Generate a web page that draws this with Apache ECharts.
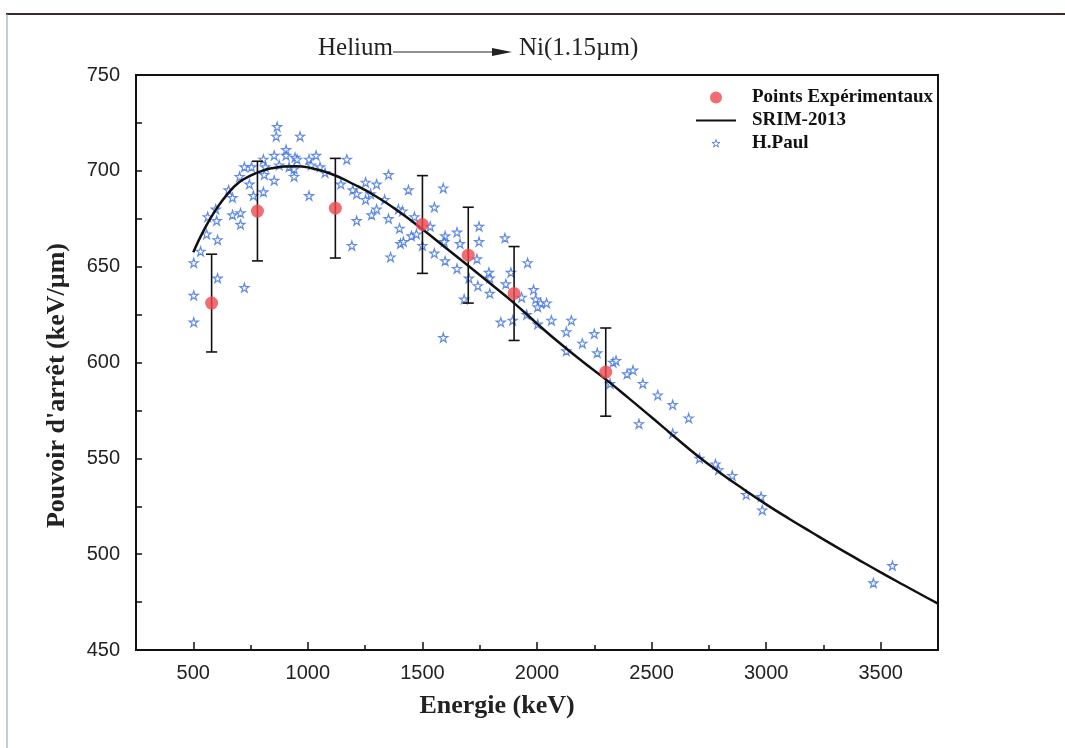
<!DOCTYPE html>
<html>
<head>
<meta charset="utf-8">
<script src="https://cdn.jsdelivr.net/npm/echarts/dist/echarts.min.js"></script>
<style>
html,body{margin:0;padding:0;background:#fff;}
#chart{width:1065px;height:748px;}
</style>
</head>
<body>
<div id="chart"></div>
<script>
// ---- data ----
const xMajorTicks = [500, 1000, 1500, 2000, 2500, 3000, 3500];
const xMinorTicks = [750, 1250, 1750, 2250, 2750, 3250];

const srimE = [500, 550, 600, 650, 700, 750, 800, 850, 900, 950, 1000, 1100, 1200, 1300, 1400, 1500, 1600, 1700, 1800, 1900, 2000, 2100, 2200, 2300, 2400, 2500, 2600, 2700, 2800, 2900, 3000, 3100, 3200, 3300, 3400, 3500, 3600, 3700, 3750];
const srimS = [657.5, 670, 680, 688, 694, 697.5, 700, 701.5, 702.3, 702.4, 701.8, 698.5, 693, 686.5, 678.5, 669.5, 660, 650.5, 640.8, 631, 620.3, 610, 600.4, 591.2, 581.4, 571.4, 561.3, 551.4, 542.4, 534, 526, 518.5, 511.3, 504.2, 497.3, 490.5, 483.9, 477.4, 474.2];

const expE = [580, 780, 1120, 1500, 1700, 1900, 2300];
const expS = [631, 679, 680.5, 672, 656, 636, 595];
const expErr = [25.5, 26, 26, 25.5, 25, 24.5, 23];

const paulE = [502, 502, 502, 532, 558, 563, 598, 602, 606, 606, 654, 671, 671, 706, 706, 702, 723, 723, 754, 745, 762, 806, 806, 814, 810, 853, 853, 862, 866, 875, 905, 905, 918, 944, 953, 940, 966, 940, 1005, 1005, 1036, 1014, 1053, 1075, 1144, 1170, 1196, 1213, 1192, 1213, 1252, 1274, 1252, 1300, 1335, 1300, 1278, 1352, 1352, 1395, 1400, 1404, 1361, 1439, 1413, 1465, 1452, 1474, 1417, 1500, 1534, 1552, 1591, 1552, 1599, 1595, 1599, 1591, 1651, 1664, 1651, 1703, 1682, 1747, 1747, 1738, 1742, 1790, 1794, 1794, 1860, 1886, 1864, 1842, 1894, 1959, 1933, 1985, 1994, 2016, 2042, 2003, 1955, 2003, 2063, 2150, 2128, 2128, 2198, 2250, 2263, 2332, 2345, 2319, 2393, 2419, 2462, 2445, 2527, 2592, 2592, 2662, 2709, 2779, 2792, 2852, 2913, 2978, 2983, 3468, 3551];
const paulS = [652, 635, 621, 658, 667, 676, 680, 674, 664, 644, 690, 686, 677, 678, 672, 697, 639, 702, 702, 693, 687, 689, 706, 702, 698, 695, 708, 718, 723, 703, 711, 708, 702, 707, 706, 697, 718, 701, 687, 706, 708, 703, 702, 699, 693, 706, 690, 688, 661, 674, 694, 688, 685, 693, 685, 680, 677, 698, 675, 680, 670, 662, 655, 690, 679, 676, 666, 667, 663, 661, 671, 681, 691, 657, 666, 663, 653, 613, 668, 662, 649, 644, 633, 671, 663, 654, 640, 647, 644, 636, 665, 647, 641, 621, 622, 652, 634, 638, 633, 631, 631, 629, 625, 620, 622, 622, 616, 606, 610, 615, 605, 600, 601, 589, 594, 596, 589, 568, 583, 578, 563, 571, 550, 547, 544, 541, 531, 530, 523, 485, 494];

// ---- build ----
const srimData = srimE.map((e, i) => [e, srimS[i]]);
const expData = expE.map((e, i) => [e, expS[i]]);
const errData = expE.map((e, i) => [e, expS[i], expErr[i]]);
const paulData = paulE.map((e, i) => [e, paulS[i]]);

const starShape = 'M50,2 L61.2,36.5 L97.6,36.5 L68.2,57.9 L79.4,92.4 L50,71.1 L20.6,92.4 L31.8,57.9 L2.4,36.5 L38.8,36.5 Z';
const starPath = 'path://' + starShape;
const starLegendPath = 'path://M-22,-22 L-22,-22 M122,122 L122,122 ' + starShape;

const chart = echarts.init(document.getElementById('chart'), null, {renderer: 'canvas'});
const serif = '"Liberation Serif", "Times New Roman", serif';
const sans = '"Liberation Sans", Arial, sans-serif';
const starBlue = '#3a6ee0';

const option = {
  backgroundColor: '#ffffff',
  animation: false,
  grid: {left: 136, right: 127, top: 75, bottom: 98, show: true, borderColor: '#111', borderWidth: 2, backgroundColor: 'transparent'},
  legend: {
    data: [
      {name: 'Points Expérimentaux'},
      {name: 'SRIM-2013', itemStyle: {opacity: 0}},
      {name: 'H.Paul', icon: starLegendPath, itemStyle: {color: '#ffffff', borderColor: starBlue, borderWidth: 1}}
    ],
    orient: 'vertical',
    left: 690, top: 83,
    itemWidth: 40, itemHeight: 12, itemGap: 4,
    textStyle: {fontFamily: serif, fontWeight: 'bold', fontSize: 19, color: '#111', padding: [0, 0, 0, 11]}
  },
  xAxis: [{
    type: 'value', min: 250, max: 3750, interval: 250,
    name: 'Energie (keV)', nameLocation: 'middle', nameGap: 43,
    nameTextStyle: {fontFamily: serif, fontWeight: 'bold', fontSize: 26, color: '#222', padding: [0, 80, 0, 0]},
    axisLine: {show: true, onZero: false, lineStyle: {color: '#111', width: 2}},
    axisTick: {show: true, inside: true, length: 8, lineStyle: {color: '#111', width: 1.5}, customValues: xMajorTicks},
    axisLabel: {show: true, margin: 13, fontFamily: sans, fontSize: 20, color: '#222', customValues: xMajorTicks,
      formatter: function (v) { return String(v); }},
    splitLine: {show: false}
  }, {
    type: 'value', min: 250, max: 3750, interval: 250, position: 'bottom', gridIndex: 0,
    axisLine: {show: false},
    axisTick: {show: true, inside: true, length: 5, lineStyle: {color: '#111', width: 1.5}, customValues: xMinorTicks},
    axisLabel: {show: false},
    splitLine: {show: false}
  }],
  yAxis: {
    type: 'value', min: 450, max: 750, interval: 50,
    name: "Pouvoir d'arrêt (keV/µm)", nameLocation: 'middle', nameGap: 66,
    nameTextStyle: {fontFamily: serif, fontWeight: 'bold', fontSize: 26, color: '#222', padding: [0, 46, 0, 0]},
    axisLine: {show: true, onZero: false, lineStyle: {color: '#111', width: 2}},
    axisTick: {show: true, inside: true, length: 6, lineStyle: {color: '#111', width: 1.5}},
    minorTick: {show: true, splitNumber: 2, length: 6, lineStyle: {color: '#111', width: 1.5}},
    axisLabel: {margin: 16, fontFamily: sans, fontSize: 20, color: '#222',
      formatter: function (v) { return String(v); }},
    splitLine: {show: false}
  },
  series: [
    {
      name: 'H.Paul', type: 'scatter', data: paulData,
      symbol: starPath, symbolSize: 9,
      itemStyle: {color: '#ffffff', borderColor: starBlue, borderWidth: 1.2},
      z: 2
    },
    {
      name: 'SRIM-2013', type: 'line', data: srimData, smooth: true, showSymbol: false, symbol: 'none',
      lineStyle: {color: '#111', width: 2.5}, itemStyle: {color: '#111'}, z: 3
    },
    {
      type: 'custom', data: errData, z: 4,
      renderItem: function (params, api) {
        const x = api.value(0), y = api.value(1), e = api.value(2);
        const t = api.coord([x, y + e]);
        const b = api.coord([x, y - e]);
        const w = 5.5;
        const st = {stroke: '#111', lineWidth: 1.6};
        return {type: 'group', children: [
          {type: 'line', shape: {x1: t[0], y1: t[1], x2: b[0], y2: b[1]}, style: st},
          {type: 'line', shape: {x1: t[0] - w, y1: t[1], x2: t[0] + w, y2: t[1]}, style: st},
          {type: 'line', shape: {x1: b[0] - w, y1: b[1], x2: b[0] + w, y2: b[1]}, style: st}
        ]};
      }
    },
    {
      name: 'Points Expérimentaux', type: 'scatter', data: expData,
      symbol: 'circle', symbolSize: 13,
      itemStyle: {color: '#ef474e'}, z: 5
    }
  ],
  graphic: [
    {type: 'line', shape: {x1: 6, y1: 14, x2: 1065, y2: 14}, style: {stroke: '#3a2b2b', lineWidth: 2}},
    {type: 'line', shape: {x1: 7, y1: 14, x2: 7, y2: 748}, style: {stroke: '#8a9ab0', lineWidth: 1}},
    {type: 'text', left: 318, top: 36, style: {text: 'Helium', font: '25px ' + serif, fill: '#222'}},
    {type: 'line', shape: {x1: 393, y1: 52, x2: 494, y2: 52}, style: {stroke: '#222', lineWidth: 1.2}},
    {type: 'polygon', shape: {points: [[492, 48], [512, 52], [492, 56]]}, style: {fill: '#222'}},
    {type: 'text', left: 519, top: 36, style: {text: 'Ni(1.15µm)', font: '25px ' + serif, fill: '#222'}}
  ]
};
chart.setOption(option);
</script>
</body>
</html>
